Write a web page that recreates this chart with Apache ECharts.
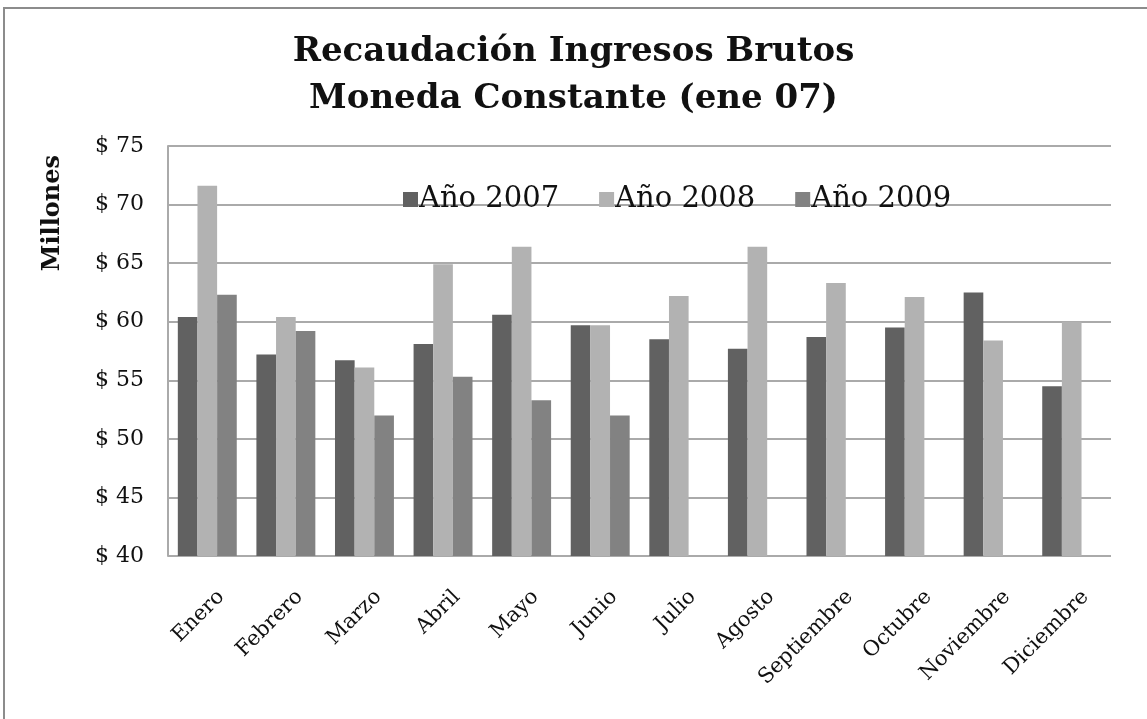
<!DOCTYPE html>
<html>
<head>
<meta charset="utf-8">
<script src="https://cdn.jsdelivr.net/npm/echarts@6/dist/echarts.min.js"></script>
<style>
    html, body { margin: 0; padding: 0; background: #fff; }
    #frame { position: absolute; left: 3px; top: 7px; width: 1150px; height: 720px; border: 2px solid #8c8c8c; box-sizing: border-box; }
    #chart { position: absolute; left: 0; top: 0; width: 1147px; height: 719px; }
</style>
</head>
<body>
<div id="frame"></div>
<div id="chart"></div>
<script type="text/javascript">
    // meses
    var meses = ['Enero', 'Febrero', 'Marzo', 'Abril', 'Mayo', 'Junio', 'Julio', 'Agosto', 'Septiembre', 'Octubre', 'Noviembre', 'Diciembre'];
    // recaudacion en millones, moneda constante
    var anio2007 = [60.4, 57.2, 56.7, 58.1, 60.6, 59.7, 58.5, 57.7, 58.7, 59.5, 62.5, 54.5];
    var anio2008 = [71.6, 60.4, 56.1, 64.9, 66.4, 59.7, 62.2, 66.4, 63.3, 62.1, 58.4, 60.0];
    var anio2009 = [62.3, 59.2, 52.0, 55.3, 53.3, 52.0, null, null, null, null, null, null];
    var nombres = ['Año 2007', 'Año 2008', 'Año 2009'];
    var colores = ['#616161', '#b2b2b2', '#828282'];

    var fuente = '"DejaVu Serif", "Liberation Serif", serif';
    var myChart = echarts.init(document.getElementById('chart'));

    var option = {
        animation: false,
        color: colores,
        title: {
            text: 'Recaudación Ingresos Brutos\nMoneda Constante (ene 07)',
            left: 'center',
            top: 24,
            textStyle: {
                fontFamily: fuente,
                fontWeight: 'bold',
                fontSize: 34,
                lineHeight: 47,
                color: '#111'
            }
        },
        legend: {
            data: nombres,
            top: 180,
            left: 398,
            itemWidth: 15,
            itemHeight: 15,
            itemGap: 40,
            icon: 'rect',
            textStyle: { fontFamily: fuente, fontSize: 29, color: '#111', padding: [0, 0, 0, -4] }
        },
        grid: { left: 168, right: 36, top: 146, bottom: 163 },
        xAxis: {
            type: 'category',
            data: meses,
            axisLine: { show: false },
            axisTick: { show: false },
            axisLabel: {
                rotate: 45,
                interval: 0,
                margin: 24,
                verticalAlign: 'top',
                padding: [9, 0, 0, 0],
                fontFamily: fuente,
                fontSize: 21,
                color: '#111'
            }
        },
        yAxis: {
            type: 'value',
            min: 40,
            max: 75,
            interval: 5,
            axisLine: { show: true, lineStyle: { color: '#aaa', width: 2 } },
            axisTick: { show: false },
            axisLabel: {
                formatter: '$ {value}',
                margin: 24,
                fontFamily: fuente,
                fontSize: 22,
                color: '#111'
            },
            splitLine: { lineStyle: { color: '#aaa', width: 2 } }
        },
        graphic: [{
            type: 'text',
            left: 41,
            top: 155,
            rotation: Math.PI / 2,
            style: {
                text: 'Millones',
                font: 'bold 24px ' + fuente,
                fill: '#111'
            }
        }],
        series: [
            { name: nombres[0], type: 'bar', data: anio2007, barGap: '0%', barCategoryGap: '25%' },
            { name: nombres[1], type: 'bar', data: anio2008, barGap: '0%', barCategoryGap: '25%' },
            { name: nombres[2], type: 'bar', data: anio2009, barGap: '0%', barCategoryGap: '25%' }
        ]
    };

    myChart.setOption(option, true);
</script>
</body>
</html>
